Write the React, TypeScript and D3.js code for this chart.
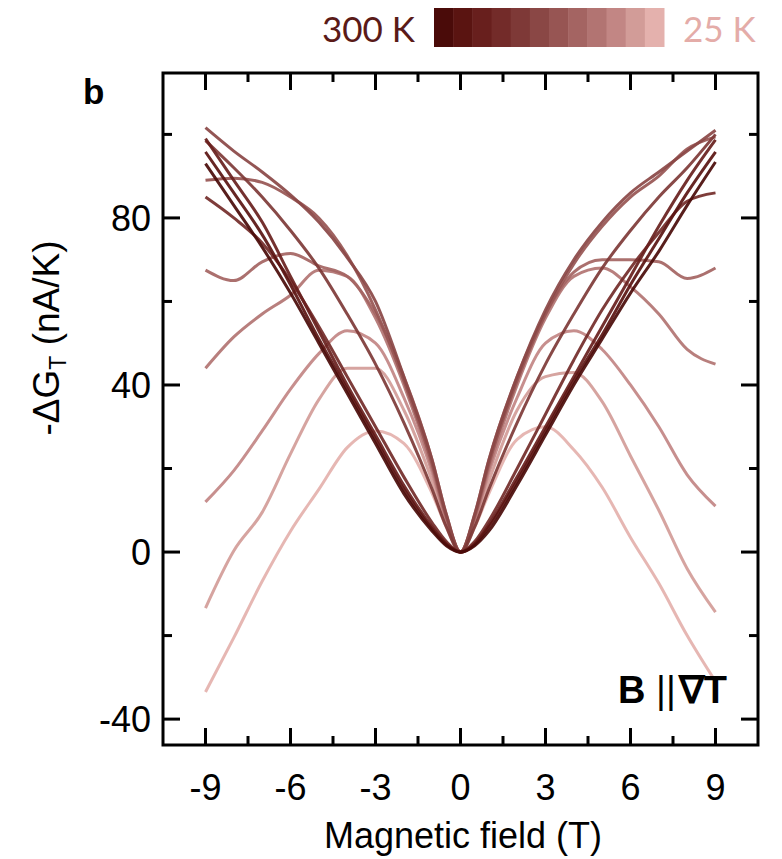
import React from "react";
import * as d3 from "d3";

const WIDTH = 782;
const HEIGHT = 859;
const frame = { left: 163, right: 758, top: 73, bottom: 745 };

// magnetic field grid (T)
const fieldB = [-9, -8, -7, -6, -5, -4, -3, -2, -1, -0.5, 0, 0.5, 1, 2, 3, 4, 5, 6, 7, 8, 9];

// -dG_T (nA/K), one array per temperature
const k300 = [93, 83, 73, 62, 50, 38, 26, 14, 5, 1.5, 0, 1.5, 5, 16, 28, 40, 51, 62, 72, 83, 93.4];
const k275 = [95.8, 86, 76, 64, 51, 39, 27, 15, 5.5, 1.8, 0, 1.8, 6, 17, 29, 41, 52, 64, 75, 86, 95.8];
const k250 = [99, 89, 79, 66, 53, 40, 28, 16, 6, 2, 0, 2, 6.5, 18, 30, 42, 54, 66, 78, 89, 98.7];
const k225 = [85, 80, 74, 65, 54, 42, 30, 18, 7, 2.5, 0, 2.5, 7.5, 20, 33, 46, 58, 68, 76.5, 84, 86];
const k200 = [98.5, 92, 85, 77, 68, 57, 45, 31, 15, 6, 0, 6, 15, 31, 45, 57, 68, 77, 85, 92, 100];
const k175 = [101.6, 96, 91, 85.5, 79, 70.5, 60, 42, 22, 9, 0, 9, 22, 42, 58, 70, 79, 86, 91, 96, 101];
const k150 = [89, 89.5, 88.5, 85, 80, 71, 58, 41, 21, 8.5, 0, 8.5, 21, 41, 57, 69, 78, 85, 90, 96.5, 99.4];
const k125 = [67.5, 65, 69.5, 71.5, 68.5, 66, 57, 42, 22, 9, 0, 9, 22, 42, 57, 67, 70, 70, 69.5, 65.5, 68];
const k100 = [44, 51.5, 57, 61.5, 67.5, 66, 56, 40, 20, 8, 0, 8, 20, 40, 56, 66, 68, 63.5, 57, 48.5, 45];
const k75 = [12, 19.5, 29, 39, 47.5, 53, 50, 37, 19, 7.5, 0, 7.5, 19, 37, 50, 53, 48.5, 40, 30, 18.5, 11];
const k50 = [-13.4, 0.3, 9.5, 23.5, 36.5, 44, 44, 34, 17, 7, 0, 7, 17, 34, 42, 43, 36, 23, 10, -4, -14.4];
const k25 = [-33.5, -20.5, -7, 5, 15, 25, 29, 26, 14, 6, 0, 6, 14, 27, 30, 24.5, 15.5, 3.5, -7.5, -20, -31];

const series = [k300, k275, k250, k225, k200, k175, k150, k125, k100, k75, k50, k25];

// colour per curve, 300 K (dark) -> 25 K (light), same as colour bar steps
const shades = [
  "#4a0b09", "#5a1411", "#681f1d", "#732b29", "#7e3937", "#8a4745",
  "#975553", "#a46462", "#b27472", "#c28684", "#d29c98", "#e4b1ad",
];

const xTicks = [-9, -6, -3, 0, 3, 6, 9];
const xMinor = [-7.5, -4.5, -1.5, 1.5, 4.5, 7.5];
const yTicks = [-40, 0, 40, 80];
const yMinor = [-20, 20, 60, 100];

const FONT = "Liberation Sans, Arial, sans-serif";

export default function App() {
  const x = d3.scaleLinear().domain([-10.5, 10.5]).range([frame.left, frame.right]);
  const y = d3.scaleLinear().domain([-46.2, 114.7]).range([frame.bottom, frame.top]);

  const line = d3
    .line<number>()
    .x((_, i) => x(fieldB[i]))
    .y((d) => y(d))
    .curve(d3.curveMonotoneX);

  const band = d3
    .scaleBand<number>()
    .domain(d3.range(shades.length))
    .range([434, 664]);

  const MAJ = 17;
  const MIN = 9;

  return (
    <svg
      width={WIDTH}
      height={HEIGHT}
      style={{ position: "absolute", left: 0, top: 0, background: "#fff" }}
    >
      {/* colour bar */}
      {shades.map((c, i) => (
        <rect key={i} x={band(i)} y={8} width={band.bandwidth() + 0.5} height={39} fill={c} />
      ))}
      <text x={322} y={42} fontFamily="Lato, Open Sans, sans-serif" fontSize={35} fill="#5a1a18">
        300 K
      </text>
      <text x={683} y={42} fontFamily="Lato, Open Sans, sans-serif" fontSize={35} fill="#e4aca8">
        25 K
      </text>

      {/* curves, light first so the dark ones sit on top */}
      {series
        .map((s, i) => ({ s, i }))
        .reverse()
        .map(({ s, i }) => (
          <path
            key={i}
            d={line(s) || ""}
            fill="none"
            stroke={shades[i]}
            strokeWidth={3}
            strokeOpacity={0.92}
            strokeLinejoin="round"
          />
        ))}

      {/* frame */}
      <rect
        x={frame.left}
        y={frame.top}
        width={frame.right - frame.left}
        height={frame.bottom - frame.top}
        fill="none"
        stroke="#000"
        strokeWidth={3}
      />

      {/* x ticks, bottom and top */}
      {xTicks.map((t) => (
        <g key={"xt" + t}>
          <line x1={x(t)} x2={x(t)} y1={frame.bottom} y2={frame.bottom - MAJ} stroke="#000" strokeWidth={3} />
          <line x1={x(t)} x2={x(t)} y1={frame.top} y2={frame.top + MAJ} stroke="#000" strokeWidth={3} />
          <text x={x(t)} y={800} textAnchor="middle" fontFamily={FONT} fontSize={36}>
            {t}
          </text>
        </g>
      ))}
      {xMinor.map((t) => (
        <g key={"xm" + t}>
          <line x1={x(t)} x2={x(t)} y1={frame.bottom} y2={frame.bottom - MIN} stroke="#000" strokeWidth={3} />
          <line x1={x(t)} x2={x(t)} y1={frame.top} y2={frame.top + MIN} stroke="#000" strokeWidth={3} />
        </g>
      ))}

      {/* y ticks, left and right */}
      {yTicks.map((t) => (
        <g key={"yt" + t}>
          <line x1={frame.left} x2={frame.left + MAJ} y1={y(t)} y2={y(t)} stroke="#000" strokeWidth={3} />
          <line x1={frame.right} x2={frame.right - MAJ} y1={y(t)} y2={y(t)} stroke="#000" strokeWidth={3} />
          <text x={151} y={y(t)} dy="0.36em" textAnchor="end" fontFamily={FONT} fontSize={36}>
            {t}
          </text>
        </g>
      ))}
      {yMinor.map((t) => (
        <g key={"ym" + t}>
          <line x1={frame.left} x2={frame.left + MIN} y1={y(t)} y2={y(t)} stroke="#000" strokeWidth={3} />
          <line x1={frame.right} x2={frame.right - MIN} y1={y(t)} y2={y(t)} stroke="#000" strokeWidth={3} />
        </g>
      ))}

      {/* axis titles */}
      <text x={463} y={848} textAnchor="middle" fontFamily={FONT} fontSize={36}>
        Magnetic field (T)
      </text>
      <text
        transform={`translate(59, 338) rotate(-90)`}
        textAnchor="middle"
        fontFamily={FONT}
        fontSize={37}
      >
        -ΔG
        <tspan fontSize={23} dy={7}>
          T
        </tspan>
        <tspan dy={-7}> (nA/K)</tspan>
      </text>

      {/* panel label and annotation */}
      <text x={83} y={104} fontFamily={FONT} fontSize={35} fontWeight="bold">
        b
      </text>
      <text x={727} y={703} textAnchor="end" fontFamily={FONT} fontSize={38} fontWeight="bold">
        B <tspan fontWeight="normal">||</tspan>
        <tspan dx={3}>∇T</tspan>
      </text>
    </svg>
  );
}
